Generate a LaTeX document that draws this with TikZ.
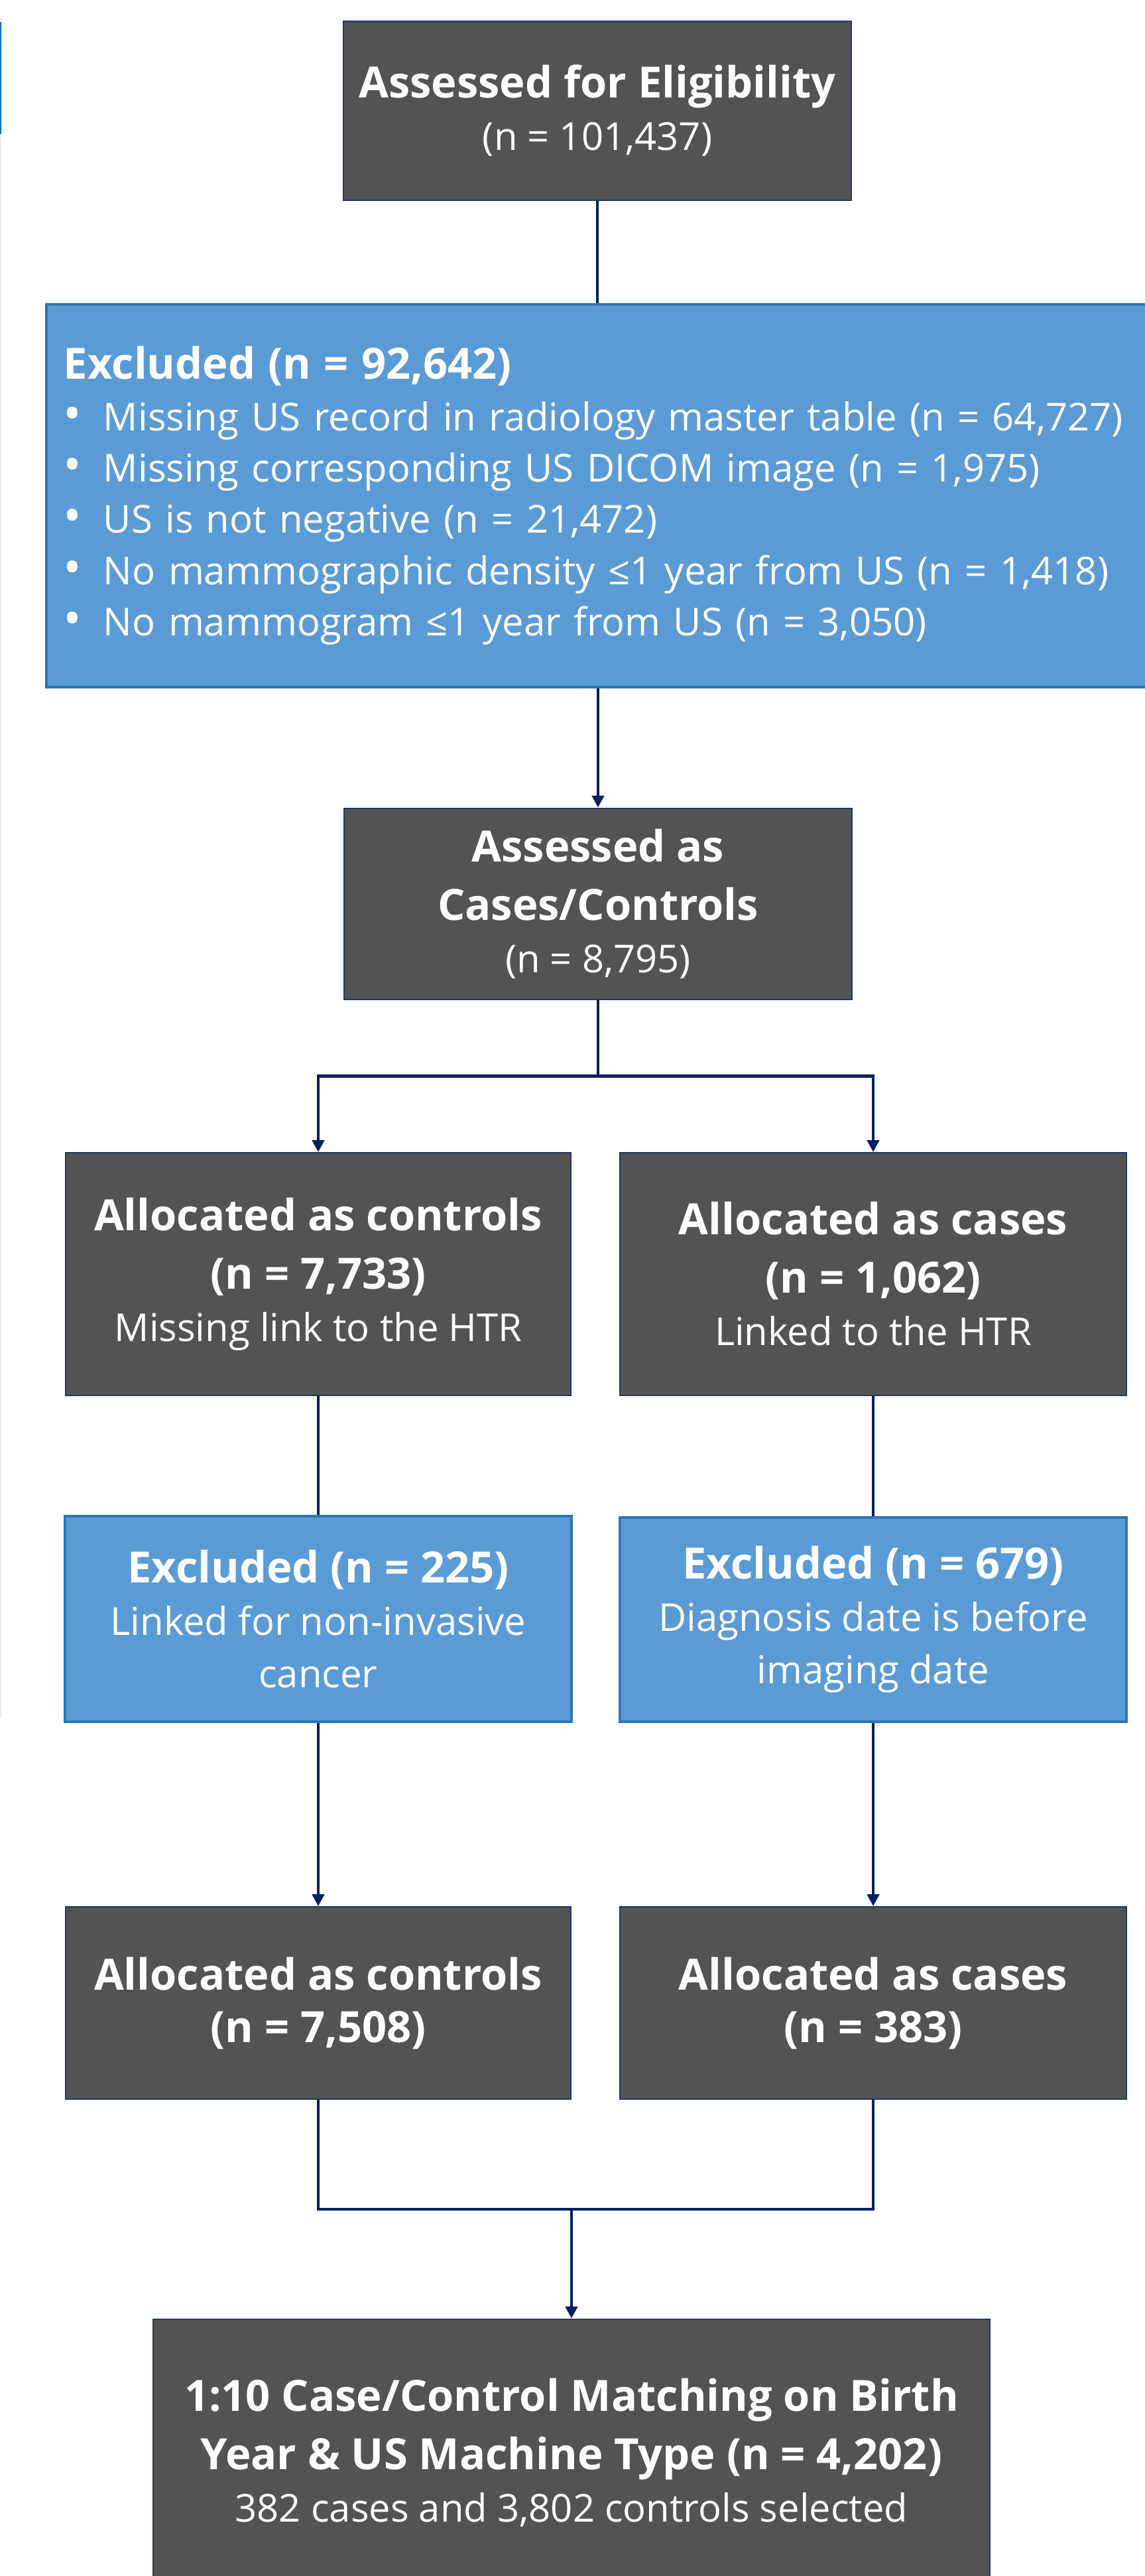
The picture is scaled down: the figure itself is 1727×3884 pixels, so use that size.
\documentclass[tikz,border=0pt]{standalone}
\usepackage{fontspec}
\setmainfont{Open Sans}
\usetikzlibrary{arrows.meta}

\definecolor{boxgray}{RGB}{83,83,83}
\definecolor{boxline}{RGB}{32,56,100}
\definecolor{exblue}{RGB}{91,155,213}
\definecolor{exline}{RGB}{46,117,182}
\definecolor{flow}{RGB}{0,32,96}
\definecolor{edgeblue}{RGB}{0,112,192}
\definecolor{edgegray}{RGB}{236,236,236}

\newcommand{\hd}{\bfseries\fontsize{37}{45}\selectfont}
\newcommand{\blt}{\makebox[1.2cm][l]{\fontsize{42}{44}\selectfont •}}

\tikzset{
  graybox/.style={draw=boxline, line width=0.04cm, fill=boxgray, text=white,
    align=center, font=\fontsize{33}{45}\selectfont, inner sep=0pt},
  bluebox/.style={draw=exline, line width=0.08cm, fill=exblue, text=white,
    align=center, font=\fontsize{33}{45}\selectfont, inner sep=0pt},
  flowline/.style={draw=flow, line width=0.09cm},
  flowarrow/.style={flowline, -{Triangle[length=0.36cm,width=0.36cm]}}
}

\begin{document}
\begin{tikzpicture}[x=0.02cm, y=-0.02cm]
\useasboundingbox (0,0) rectangle (1727,3884);

%page edge
	\draw[edgeblue, line width=0.04cm] (1,33) -- (1,202);
	\draw[edgegray, line width=0.04cm] (1,202) -- (1,2590);

%top
	\node[graybox, minimum width=15.32cm, minimum height=5.4cm] (elig) at (901,167)
		{{\hd Assessed for Eligibility}\\(n = 101,437)};

	\node[bluebox, anchor=north west, align=left, minimum width=33.44cm, minimum height=11.54cm,
		text width=32.4cm, inner xsep=0.52cm, font=\fontsize{33}{44}\selectfont] (excl) at (68,457)
		{{\hd Excluded (n = 92,642)}\\
		\blt Missing US record in radiology master table (n = 64,727)\\
		\blt Missing corresponding US DICOM image (n = 1,975)\\
		\blt US is not negative (n = 21,472)\\
		\blt No mammographic density ≤1 year from US (n = 1,418)\\
		\blt No mammogram ≤1 year from US (n = 3,050)};

	\node[graybox, minimum width=15.32cm, minimum height=5.78cm] (cc) at (902,1363)
		{{\hd Assessed as}\\[5pt]{\hd Cases/Controls}\\(n = 8,795)};

%two arms
	\node[graybox, minimum width=15.26cm, minimum height=7.32cm] (ctrl) at (480,1921)
		{{\hd Allocated as controls}\\[5pt]{\hd (n = 7,733)}\\Missing link to the HTR};
	\node[graybox, minimum width=15.28cm, minimum height=7.32cm] (cases) at (1317,1921)
		{{\hd Allocated as cases}\\[5pt]{\hd (n = 1,062)}\\Linked to the HTR};

	\node[bluebox, minimum width=15.3cm, minimum height=6.2cm] (exclL) at (480,2441)
		{{\hd Excluded (n = 225)}\\Linked for non-invasive\\cancer};
	\node[bluebox, minimum width=15.28cm, minimum height=6.16cm] (exclR) at (1317,2442)
		{{\hd Excluded (n = 679)}\\Diagnosis date is before\\imaging date};

	\node[graybox, minimum width=15.26cm, minimum height=5.8cm] (ctrl2) at (480,3020)
		{{\hd Allocated as controls}\\{\hd (n = 7,508)}};
	\node[graybox, minimum width=15.28cm, minimum height=5.8cm] (cases2) at (1317,3020)
		{{\hd Allocated as cases}\\{\hd (n = 383)}};

%bottom
	\node[graybox, minimum width=25.26cm, minimum height=8.06cm] (final) at (862,3698)
		{{\hd 1:10 Case/Control Matching on Birth}\\[5pt]{\hd Year \& US Machine Type (n = 4,202)}\\382 cases and 3,802 controls selected};

%lines
	\draw[flowline] (elig.south) -- (elig.south |- excl.north);
	\draw[flowarrow] (cc.north |- excl.south) -- (cc.north);

	\draw[flowline] (cc.south) -- ++(0,114) coordinate (split);
	\draw[flowarrow] (split) -| (ctrl.north);
	\draw[flowarrow] (split) -| (cases.north);

	\draw[flowline] (ctrl.south) -- (exclL.north);
	\draw[flowline] (cases.south) -- (exclR.north);
	\draw[flowarrow] (exclL.south) -- (ctrl2.north);
	\draw[flowarrow] (exclR.south) -- (cases2.north);

	\coordinate (merge) at (862,3331);
	\draw[flowline] (ctrl2.south) |- (merge) -| (cases2.south);
	\draw[flowarrow] (merge) -- (final.north);

\end{tikzpicture}
\end{document}
